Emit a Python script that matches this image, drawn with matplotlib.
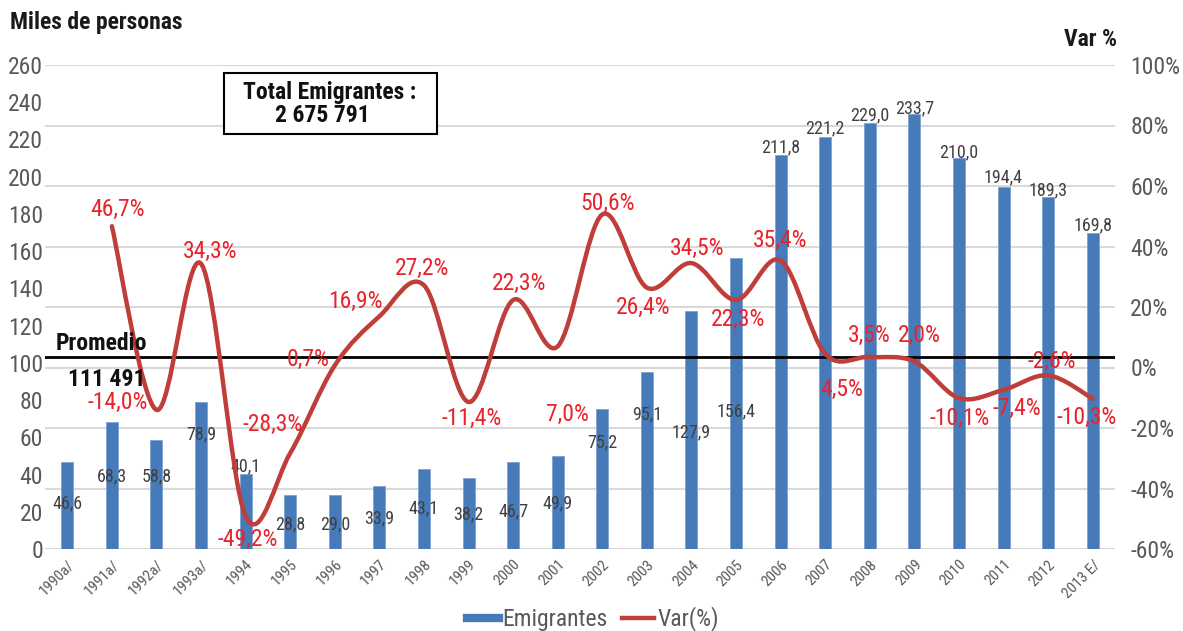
import matplotlib
matplotlib.use('Agg')
from matplotlib import pyplot as plt
from matplotlib.path import Path
from matplotlib.patches import PathPatch
from matplotlib.lines import Line2D

plt.rcParams['font.family'] = ['Roboto Condensed', 'DejaVu Sans']

years = ["1990a/", "1991a/", "1992a/", "1993a/", "1994", "1995", "1996", "1997", "1998",
         "1999", "2000", "2001", "2002", "2003", "2004", "2005", "2006", "2007", "2008",
         "2009", "2010", "2011", "2012", "2013 E/"]
emigrantes = [46.6, 68.3, 58.8, 78.9, 40.1, 28.8, 29.0, 33.9, 43.1, 38.2, 46.7, 49.9,
              75.2, 95.1, 127.9, 156.4, 211.8, 221.2, 229.0, 233.7, 210.0, 194.4, 189.3, 169.8]
# variation starts in 1991
var_pct = [46.7, -14.0, 34.3, -49.2, -28.3, 0.7, 16.9, 27.2, -11.4, 22.3, 7.0, 50.6,
           26.4, 34.5, 22.3, 35.4, 4.5, 3.5, 2.0, -10.1, -7.4, -2.6, -10.3]

# label placement (as in the original excel chart, labels are scattered)
bar_lab_y = [24.7, 39.2, 39.2, 61.8, 44.6, 13.4, 13.4, 16.7, 22.0, 18.8, 20.4, 24.7,
             57.5, 72.5, 62.9, 74.1, 216.0, 226.2, 233.1, 236.9, 213.3, 199.8, 192.9, 174.1]
var_lab_x = [1.12, 1.14, 3.21, 4.04, 4.60, 5.40, 6.46, 7.96, 9.08, 10.13, 11.21, 12.13,
             12.91, 14.13, 15.04, 16.0, 17.38, 17.98, 19.1, 20.02, 21.3, 22.09, 22.87]
var_lab_y = [52.4, -11.7, 38.5, -56.7, -18.7, 2.8, 21.7, 32.9, -16.7, 27.9, -15.4, 54.1,
             20.0, 39.5, 16.0, 42.1, -7.1, 10.7, 10.7, -17.0, -13.4, 2.1, -16.4]

blue = '#477AB9'
red_line = '#BF3E3A'
red_txt = '#E8232B'
grey = '#595959'

fig = plt.figure(figsize=(11.83, 6.31), dpi=100)
ax = fig.add_axes([45 / 1183, 1 - 549 / 631, 1070 / 1183, 484 / 631])
ax2 = ax.twinx()

x = list(range(len(years)))
ax.set_xlim(-0.5, len(years) - 0.5)
ax.set_ylim(0, 260)
ax2.set_ylim(-60, 100)

# gridlines follow the right axis ticks
right_ticks = list(range(-60, 101, 20))
for t in right_ticks:
    ax.axhline((t + 60) / 160 * 260, color='#D9D9D9', lw=1.5, zorder=0)

ax.bar(x, emigrantes, width=0.27, color=blue, edgecolor='#7FA3D1', linewidth=0.6, zorder=2)

for i, v in enumerate(emigrantes):
    ax.text(i, bar_lab_y[i], f"{v:.1f}".replace('.', ','), ha='center', va='center',
            fontsize=13, color='#404040', zorder=5)

# promedio line
ax.axhline(103, color='black', lw=2, zorder=3)
fig.text(56 / 1183, 1 - 343 / 631, "Promedio", fontsize=17, fontweight='bold',
         ha='left', va='center', color='#111111')
fig.text(68 / 1183, 1 - 380 / 631, "111 491", fontsize=17, fontweight='bold',
         ha='left', va='center', color='#111111')

# smooth line (catmull-rom bezier through the data points)
xs = list(range(1, len(years)))
pts = list(zip(xs, var_pct))
verts = [pts[0]]
codes = [Path.MOVETO]
for k in range(len(pts) - 1):
    p0 = pts[k - 1] if k > 0 else pts[k]
    p1 = pts[k]
    p2 = pts[k + 1]
    p3 = pts[k + 2] if k + 2 < len(pts) else pts[k + 1]
    c1 = (p1[0] + (p2[0] - p0[0]) / 6, p1[1] + (p2[1] - p0[1]) / 6)
    c2 = (p2[0] - (p3[0] - p1[0]) / 6, p2[1] - (p3[1] - p1[1]) / 6)
    verts += [c1, c2, p2]
    codes += [Path.CURVE4] * 3
ax2.add_patch(PathPatch(Path(verts, codes), facecolor='none', edgecolor=red_line,
                        lw=3.2, capstyle='round', zorder=4))

for k, v in enumerate(var_pct):
    ax2.text(var_lab_x[k], var_lab_y[k], f"{v:.1f}%".replace('.', ','), ha='center',
             va='center', fontsize=17, color=red_txt, zorder=6)

# axes styling
for a in (ax, ax2):
    for s in a.spines.values():
        s.set_visible(False)
ax.set_yticks(range(0, 261, 20))
ax.tick_params(axis='y', length=0, labelsize=17, labelcolor=grey, pad=1.5)
ax.set_xticks(x)
ax.set_xticklabels(years, rotation=45, ha='right', rotation_mode='anchor')
ax.tick_params(axis='x', length=0, labelsize=11, labelcolor=grey, pad=6)
ax2.set_yticks(right_ticks)
ax2.set_yticklabels([f"{t}%" for t in right_ticks])
ax2.tick_params(axis='y', length=0, labelsize=17, labelcolor=grey, pad=11)

fig.text(10 / 1183, 1 - 23 / 631, "Miles de personas", fontsize=17, fontweight='bold',
         ha='left', va='center', color='#1a1a1a')
fig.text(1117 / 1183, 1 - 40 / 631, "Var %", fontsize=17, fontweight='bold',
         ha='right', va='center', color='#1a1a1a')

# total box
fig.patches.append(plt.Rectangle((224 / 1183, 1 - 134 / 631), 213 / 1183, 61 / 631,
                                 transform=fig.transFigure, facecolor='white',
                                 edgecolor='black', lw=1.5, zorder=10))
fig.text(330 / 1183, 1 - 92 / 631, "Total Emigrantes :", fontsize=17, fontweight='bold',
         ha='center', va='center', color='#111111', zorder=11)
fig.text(322 / 1183, 1 - 116 / 631, "2 675 791", fontsize=17, fontweight='bold',
         ha='center', va='center', color='#111111', zorder=11)

handles = [Line2D([0], [0], color=blue, lw=6), Line2D([0], [0], color=red_line, lw=3.2)]
fig.legend(handles, ["Emigrantes", "Var(%)"], loc='center', ncol=2,
           bbox_to_anchor=(593 / 1183, 1 - 619 / 631), frameon=False, fontsize=17,
           labelcolor=grey, handlelength=1.35, handletextpad=0.15, columnspacing=0.6)

plt.savefig('out.png', dpi=100)
